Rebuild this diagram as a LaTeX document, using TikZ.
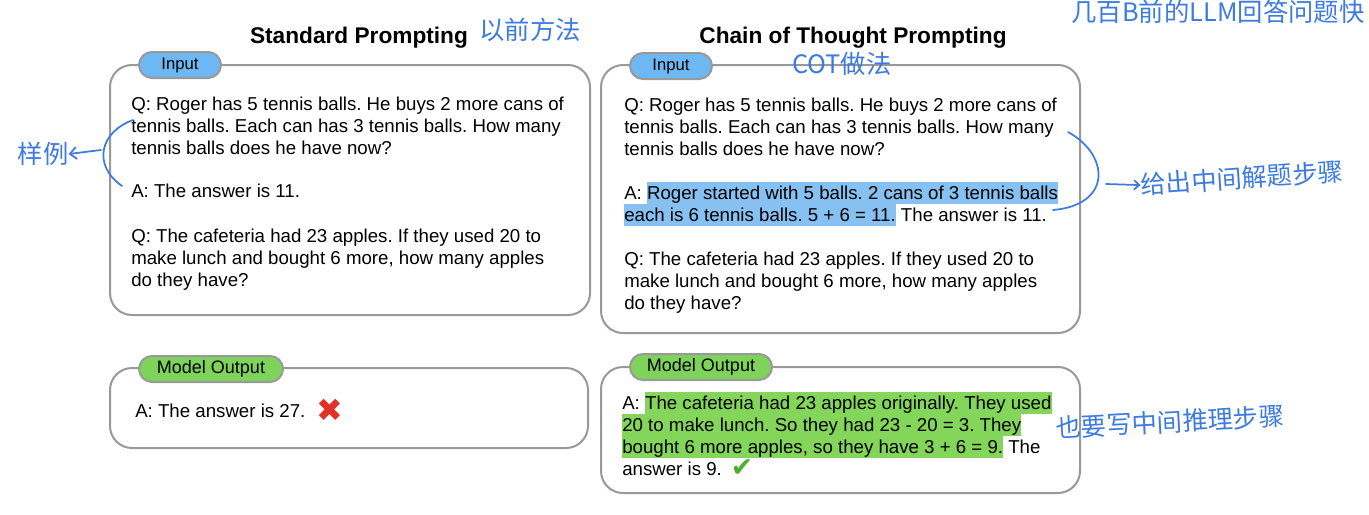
\documentclass[tikz,border=0pt]{standalone}
\usepackage{fontspec}
\setmainfont{Liberation Sans}
\newfontfamily\cjk{Noto Sans CJK SC}
\newfontfamily\dejavu{DejaVu Sans}
\usetikzlibrary{arrows.meta}
\frenchspacing
\definecolor{bordergray}{HTML}{999999}
\definecolor{pillblue}{HTML}{6DB8F2}
\definecolor{pillgreen}{HTML}{7ED35B}
\definecolor{hlblue}{HTML}{86C1F2}
\definecolor{hlgreen}{HTML}{84D65A}
\definecolor{annoblue}{HTML}{3D7BE0}
\definecolor{xred}{HTML}{E0302A}
\definecolor{okgreen}{HTML}{4CAF30}
\newcommand\hlb[1]{{\setlength{\fboxsep}{0pt}\colorbox{hlblue}{\rule[-3.4pt]{0pt}{16.5pt}#1}}}
\newcommand\hlg[1]{{\setlength{\fboxsep}{0pt}\colorbox{hlgreen}{\rule[-3.4pt]{0pt}{16.5pt}#1}}}
\begin{document}
\begin{tikzpicture}[x=0.75pt,y=-0.75pt,
  txt/.style={anchor=base west, inner sep=0pt, font=\fontsize{14}{16.5}\selectfont},
  title/.style={anchor=base, inner sep=0pt, font=\fontsize{17}{20}\selectfont\bfseries},
  box/.style={draw=bordergray, line width=1.5pt, rounded corners=16.5pt, fill=white, minimum width=#1, inner sep=0pt},
  pill/.style={draw=bordergray, line width=1.5pt, rounded corners=9.75pt, minimum height=19.5pt, inner sep=0pt, font=\fontsize{12.5}{14}\selectfont},
  outpill/.style={pill, fill=pillgreen, font=\fontsize{13.5}{15}\selectfont},
  anno/.style={text=annoblue, font=\cjk\fontsize{19}{22}\selectfont, inner sep=0pt},
  annoline/.style={draw=annoblue, line width=1.3pt, line cap=round}
]
\useasboundingbox[fill=white] (0,0) rectangle (1369,514);

% titles
\node[title] (t1) at (359,43) {Standard Prompting};
\node[title] (t2) at (853,43) {Chain of Thought Prompting};

% boxes
\node[box=360pt, minimum height=187.5pt] (inL) at (350,190) {};
\node[box=358.5pt, minimum height=60pt] (outL) at (349,408) {};
\node[box=359.25pt, minimum height=201pt] (inR) at (840.5,199) {};
\node[box=359.25pt, minimum height=94.5pt] (outR) at (840.5,430) {};

% labels
\node[pill, fill=pillblue, minimum width=61.5pt] (pinL) at (180,65) {Input};
\node[outpill, minimum width=108pt] (poutL) at (211,369) {Model Output};
\node[pill, fill=pillblue, minimum width=61.5pt] (pinR) at (671,66) {Input};
\node[outpill, minimum width=106.5pt] (poutR) at (701,367) {Model Output};

% left input text
\node[txt] (a1) at (131,110) {Q: Roger has 5 tennis balls. He buys 2 more cans of};
\node[txt] (a2) at (131,132) {tennis balls. Each can has 3 tennis balls. How many};
\node[txt] (a3) at (131,154) {tennis balls does he have now?};
\node[txt] (a4) at (131,197) {A: The answer is 11.};
\node[txt] (a5) at (131,242) {Q: The cafeteria had 23 apples. If they used 20 to};
\node[txt] (a6) at (131,264) {make lunch and bought 6 more, how many apples};
\node[txt] (a7) at (131,286) {do they have?};

% left output
\node[txt] (a8) at (135,417) {A: The answer is 27.};
\node[text=xred, font=\dejavu\fontsize{24}{24}\selectfont, inner sep=0pt] (xmark) at (330,410) {✖};

% right input text
\node[txt] (b1) at (624,111) {Q: Roger has 5 tennis balls. He buys 2 more cans of};
\node[txt] (b2) at (624,133) {tennis balls. Each can has 3 tennis balls. How many};
\node[txt] (b3) at (624,155) {tennis balls does he have now?};
\node[txt] (b4) at (624,199) {A: \hlb{Roger started with 5 balls. 2 cans of 3 tennis balls}};
\node[txt] (b5) at (624,221) {\hlb{each is 6 tennis balls. 5 + 6 = 11.} The answer is 11.};
\node[txt] (b6) at (624,265) {Q: The cafeteria had 23 apples. If they used 20 to};
\node[txt] (b7) at (624,287) {make lunch and bought 6 more, how many apples};
\node[txt] (b8) at (624,309) {do they have?};

% right output
\node[txt] (c1) at (622,409) {A: \hlg{The cafeteria had 23 apples originally. They used}};
\node[txt] (c2) at (622,431) {\hlg{20 to make lunch. So they had 23 - 20 = 3. They}};
\node[txt] (c3) at (622,453) {\hlg{bought 6 more apples, so they have 3 + 6 = 9.} The};
\node[txt] (c4) at (622,475) {answer is 9.};
\node[text=okgreen, font=\dejavu\fontsize{20}{20}\selectfont, inner sep=0pt] (ck) at (742,468) {✔};

% handwritten annotations
\node[anno] (h1) at (530,30) {以前方法};
\node[anno] (h2) at (842,64) {COT做法};
\node[anno] (h3) at (1218,12) {几百B前的LLM回答问题快};
\node[anno] (h4) at (43,154) {样例};
\node[anno, rotate=4] (h5) at (1242,178) {给出中间解题步骤};
\node[anno, rotate=3] (h6) at (1170,422) {也要写中间推理步骤};

\coordinate (lb1) at (133,120);
\coordinate (lb2) at (122,186);
\coordinate (la1) at (101,150);
\draw[annoline] (lb1) .. controls (100,132) and (92,165) .. (lb2);
\draw[annoline, -{Straight Barb[length=5pt,width=9pt]}] (la1) -- (h4.east);

\coordinate (rb1) at (1068,132);
\coordinate (rb2) at (1053,210);
\coordinate (ra1) at (1106,184);
\draw[annoline] (rb1) .. controls (1110,155) and (1112,205) .. (rb2);
\draw[annoline, -{Straight Barb[length=4pt,width=7pt]}] (ra1) -- (h5.west);
\end{tikzpicture}
\end{document}
